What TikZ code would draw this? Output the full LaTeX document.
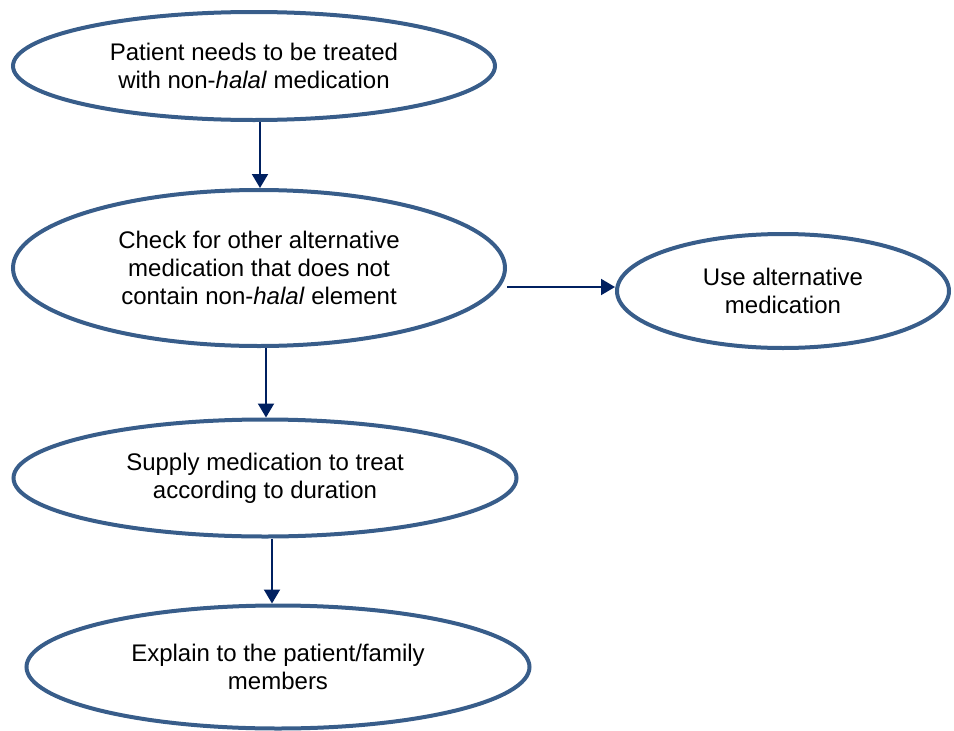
\documentclass[tikz,border=0pt]{standalone}
\usepackage{fontspec}
\setmainfont{Liberation Sans}
\usetikzlibrary{shapes.geometric,arrows.meta}
\definecolor{ellcol}{HTML}{385D8A}
\definecolor{arrcol}{HTML}{002060}
\begin{document}
\begin{tikzpicture}[x=1pt,y=-1pt,
  ell/.style={ellipse, draw=ellcol, line width=4pt, inner sep=0pt, align=center,
    font=\fontsize{24}{28}\selectfont},
  arr/.style={draw=arrcol, line width=2pt, -{Triangle[width=16pt,length=14pt]}, arrcol}]
\useasboundingbox (0,0) rectangle (954,731);
\node[ell, minimum width=482pt, minimum height=108pt] (e1) at (254,66)
  {Patient needs to be treated\\with non-\textit{halal} medication};
\node[ell, minimum width=492pt, minimum height=156pt] (e2) at (259,268)
  {Check for other alternative\\medication that does not\\contain non-\textit{halal} element};
\node[ell, minimum width=332pt, minimum height=114pt] (eR) at (783,291)
  {Use alternative\\medication};
\node[ell, minimum width=503pt, minimum height=117pt] (e3) at (265,478)
  {Supply medication to treat\\according to duration};
\node[ell, minimum width=503pt, minimum height=123pt] (e4) at (278,667)
  {Explain to the patient/family\\members};
\coordinate (x1) at (260,0);
\coordinate (x2) at (266,0);
\coordinate (x3) at (272,0);
\coordinate (yh) at (0,287);
\draw[arr] (e1.south -| x1) -- (e2.north -| x1);
\draw[arr] (e2.south -| x2) -- (e3.north -| x2);
\draw[arr] (e3.south -| x3) -- (e4.north -| x3);
\draw[arr] (e2.east |- yh) -- (eR.west |- yh);
\end{tikzpicture}
\end{document}
